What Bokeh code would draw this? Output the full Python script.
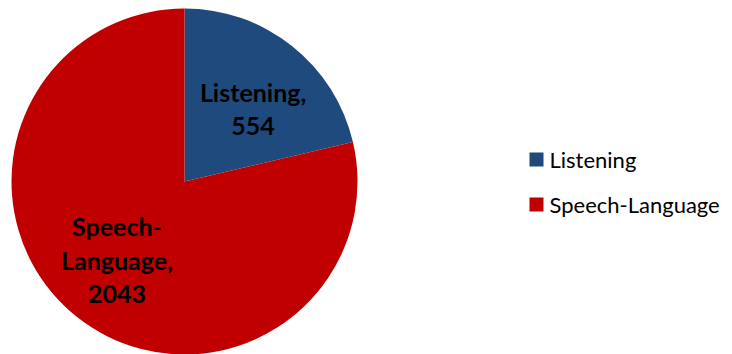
import numpy as np
from bokeh.plotting import figure
from bokeh.models import Range1d, ColumnDataSource
from bokeh.core.properties import value
from bokeh.embed import file_html
from bokeh.resources import INLINE

# ---- data ----
categories = ["Listening", "Speech-Language"]
counts = [554, 2043]
colors = ["#1F4A7E", "#C00000"]
label_lines = [["Listening,", "554"], ["Speech-", "Language,", "2043"]]

# ---- layout ----
W, H = 732, 354
CX, CY, R = 184, 173, 173
FONT = "Lato"

p = figure(width=W, height=H, output_backend="svg", toolbar_location=None,
           x_range=Range1d(0, W), y_range=Range1d(0, H), min_border=0)
p.axis.visible = False
p.grid.visible = False
p.outline_line_color = None
p.background_fill_color = "white"

vals = np.array(counts, dtype=float)
frac = vals / vals.sum()
ends = np.pi / 2 - 2 * np.pi * np.cumsum(frac)
starts = np.concatenate([[np.pi / 2], ends[:-1]])
src = ColumnDataSource(dict(start=starts, end=ends, color=colors, cat=categories))
p.wedge(x=CX, y=CY, radius=R, start_angle="start", end_angle="end",
        direction="clock", fill_color="color", line_color=None, source=src)

# data labels placed along each slice's mid angle
mid = (starts + ends) / 2
label_r = [0.62 * R, 0.61 * R]
adj = [(2, -12), (-2, 4)]
LH = 34
tx, ty, tt = [], [], []
for i, lines in enumerate(label_lines):
    bx = CX + label_r[i] * np.cos(mid[i]) + adj[i][0]
    by = CY + label_r[i] * np.sin(mid[i]) + adj[i][1]
    n = len(lines)
    for j, s in enumerate(lines):
        tx.append(bx)
        ty.append(by + (n - 1) / 2 * LH - j * LH)
        tt.append(s)
p.text(x=tx, y=ty, text=tt, text_align="center", text_baseline="middle",
       text_font=value(FONT), text_font_style="bold", text_font_size="25px",
       text_color="black")

# legend
LX, LY0, LSP, SQ = 529, 195, 45, 14
ly = [LY0 - i * LSP for i in range(len(categories))]
p.rect(x=[LX + SQ / 2] * len(categories), y=ly, width=SQ, height=SQ,
       fill_color=colors, line_color=None)
p.text(x=[LX + SQ + 6] * len(categories), y=ly, text=categories,
       text_align="left", text_baseline="middle", text_font=value(FONT),
       text_font_size="22px", text_color="black")

open("out.html", "w").write(file_html(p, INLINE))
